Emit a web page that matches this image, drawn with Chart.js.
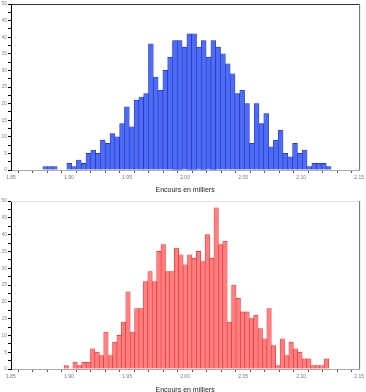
<!DOCTYPE html>
<html>
<head>
<meta charset="utf-8">
<script src="https://cdn.jsdelivr.net/npm/chart.js@4"></script>
<style>
  body { margin: 0; background: #fff; width: 366px; height: 392px; overflow: hidden; position: relative; }
  canvas { position: absolute; left: 0; }
  #histoHaut { top: 0; }
  #histoBas { top: 196px; }
</style>
</head>
<body>
<canvas id="histoHaut" width="366" height="196"></canvas>
<canvas id="histoBas" width="366" height="200"></canvas>
<script>
// ---------------- DONNEES ----------------
// centres des classes (lus sur l'axe) et effectifs
const centresHaut = [1.87947, 1.88361, 1.88775, 1.89189, 1.89603, 1.90017, 1.90431, 1.90845, 1.91259, 1.91673,
  1.92087, 1.92501, 1.92915, 1.93329, 1.93743, 1.94157, 1.94571, 1.94985, 1.95399, 1.95813,
  1.96227, 1.96641, 1.97055, 1.97469, 1.97883, 1.98297, 1.98711, 1.99125, 1.99539, 1.99953,
  2.00367, 2.00781, 2.01195, 2.01609, 2.02023, 2.02437, 2.02851, 2.03265, 2.03679, 2.04093,
  2.04507, 2.04921, 2.05335, 2.05749, 2.06163, 2.06577, 2.06991, 2.07405, 2.07819, 2.08233,
  2.08647, 2.09061, 2.09475, 2.09889, 2.10303, 2.10717, 2.11131, 2.11545, 2.11959, 2.12373];
const effectifsHaut = [1, 1, 1, 0, 0, 2, 1, 3, 2, 5,
  6, 5, 9, 8, 11, 10, 14, 19, 13, 21,
  22, 23, 38, 28, 24, 30, 34, 39, 39, 37,
  41, 41, 37, 39, 34, 39, 37, 35, 32, 29,
  23, 24, 20, 8, 20, 14, 17, 7, 9, 12,
  5, 4, 8, 5, 6, 1, 2, 2, 2, 1];

const centresBas = [1.89761, 1.90141, 1.90521, 1.90901, 1.91281, 1.91661, 1.92041, 1.92421, 1.92801, 1.93181,
  1.93561, 1.93941, 1.94321, 1.94701, 1.95081, 1.95461, 1.95841, 1.96221, 1.96601, 1.96981,
  1.97361, 1.97741, 1.98121, 1.98501, 1.98881, 1.99261, 1.99641, 2.00021, 2.00401, 2.00781,
  2.01161, 2.01541, 2.01921, 2.02301, 2.02681, 2.03061, 2.03441, 2.03821, 2.04201, 2.04581,
  2.04961, 2.05341, 2.05721, 2.06101, 2.06481, 2.06861, 2.07241, 2.07621, 2.08001, 2.08381,
  2.08761, 2.09141, 2.09521, 2.09901, 2.10281, 2.10661, 2.11041, 2.11421, 2.11801, 2.12181];
const effectifsBas = [1, 0, 2, 1, 2, 2, 6, 5, 4, 11,
  4, 8, 10, 14, 23, 11, 18, 18, 26, 29,
  26, 35, 37, 29, 29, 36, 34, 31, 34, 33,
  35, 32, 40, 33, 48, 37, 38, 14, 25, 21,
  17, 17, 15, 16, 12, 9, 18, 7, 1, 9,
  4, 8, 6, 5, 3, 3, 1, 1, 1, 3];

const xMin = 1.85, xMax = 2.15;
const yMin = 0, yMax = 50;
const titreX = "Encours en milliers";

// ---------------- CADRE (haut + droite) ----------------
const cadre = {
  id: "cadre",
  afterDraw(chart, args, opts) {
    const { ctx, chartArea: a } = chart;
    ctx.save();
    ctx.lineWidth = 1;
    ctx.strokeStyle = opts.haut;
    ctx.beginPath();
    ctx.moveTo(a.left, a.top + 0.5);
    ctx.lineTo(a.right, a.top + 0.5);
    ctx.stroke();
    ctx.strokeStyle = opts.droite;
    ctx.beginPath();
    ctx.moveTo(a.right + 0.5, a.top);
    ctx.lineTo(a.right + 0.5, a.bottom);
    ctx.stroke();
    ctx.restore();
  }
};

function histogramme(id, centres, effectifs, fond, bord, padHaut, hauteurX, titrePad, cadreHaut) {
  const ctx = document.getElementById(id).getContext("2d");
  return new Chart(ctx, {
    type: "bar",
    data: {
      datasets: [{
        data: centres.map((c, i) => ({ x: c, y: effectifs[i] })),
        backgroundColor: fond,
        borderColor: bord,
        borderWidth: 0.6,
        borderSkipped: "bottom",
        barPercentage: 1,
        categoryPercentage: 1
      }]
    },
    options: {
      responsive: false,
      animation: false,
      events: [],
      layout: { padding: { top: padHaut, right: 5, left: 0, bottom: 0 } },
      scales: {
        x: {
          type: "linear",
          min: xMin,
          max: xMax,
          offset: false,
          ticks: {
            stepSize: 0.0125,
            autoSkip: false,
            maxRotation: 0,
            padding: 2,
            color: "#777",
            font: { family: "Liberation Sans", size: 5 },
            callback: v => Math.abs(v * 20 - Math.round(v * 20)) < 1e-6 ? v.toFixed(2) : ""
          },
          grid: { drawOnChartArea: false, tickLength: 3, tickColor: "#555" },
          border: { color: "#aaa" },
          title: {
            display: true,
            text: titreX,
            color: "#222",
            font: { family: "Liberation Sans", size: 7 },
            padding: { top: 0, bottom: titrePad }
          },
          afterFit: s => { s.height = hauteurX; }
        },
        y: {
          min: yMin,
          max: yMax,
          ticks: {
            stepSize: 2.5,
            autoSkip: false,
            padding: 1,
            color: "#888",
            font: { family: "Liberation Sans", size: 5 },
            callback: v => v % 5 === 0 ? v : ""
          },
          grid: { drawOnChartArea: false, tickLength: 3, tickColor: "#000" },
          border: { color: "#000" },
          afterFit: s => { s.width = 11; }
        }
      },
      plugins: {
        legend: { display: false },
        tooltip: { enabled: false },
        cadre: { haut: cadreHaut, droite: "#666" }
      }
    },
    plugins: [cadre]
  });
}

// ---------------- HISTOGRAMME BLEU ----------------
const histoHaut = histogramme("histoHaut", centresHaut, effectifsHaut, "#4d6cf2", "#1a2ad0", 2, 26, 1.3, "#333");

// ---------------- HISTOGRAMME ROUGE ----------------
const histoBas = histogramme("histoBas", centresBas, effectifsBas, "#ff8080", "#ff2020", 5, 27, 1.8, "#e4e4e4");
</script>
</body>
</html>
